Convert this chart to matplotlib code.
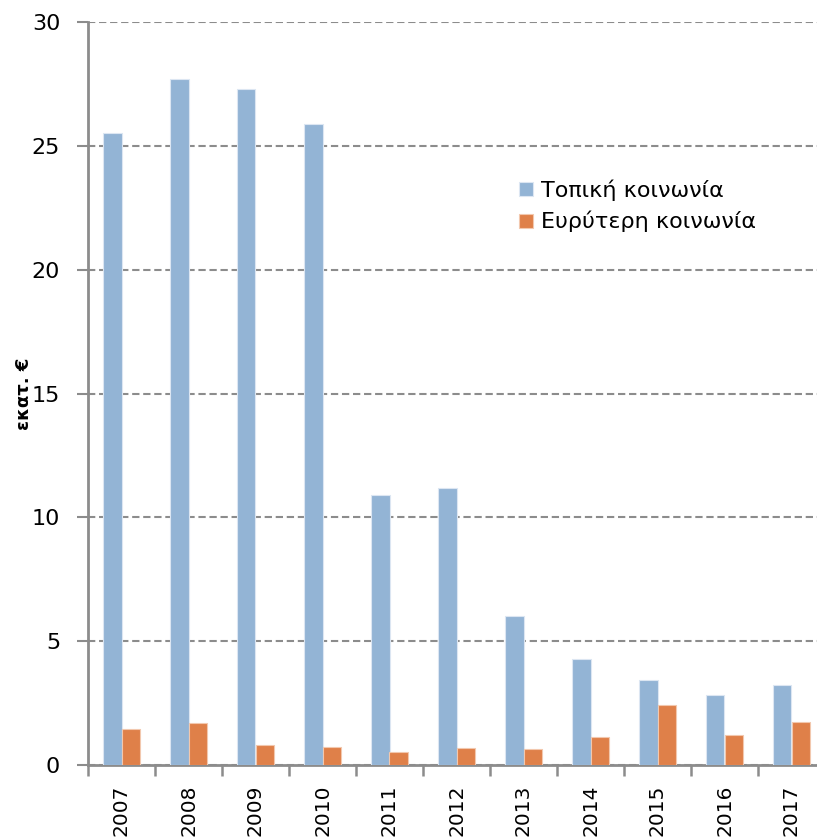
import matplotlib.pyplot as plt
import numpy as np

years = ["2007", "2008", "2009", "2010", "2011", "2012",
         "2013", "2014", "2015", "2016", "2017"]
local_community = [25.5, 27.7, 27.3, 25.9, 10.9, 11.2, 6.0, 4.28, 3.43, 2.83, 3.23]
wider_community = [1.45, 1.70, 0.81, 0.73, 0.52, 0.69, 0.65, 1.13, 2.42, 1.21, 1.74]
series_labels = ["Τοπική κοινωνία", "Ευρύτερη κοινωνία"]
y_ticks = [0, 5, 10, 15, 20, 25, 30]

plt.rcParams['font.family'] = ['DejaVu Sans']

fig = plt.figure(figsize=(8.17, 8.39), dpi=100)
ax = fig.add_axes([88 / 817, 74 / 839, 737 / 817, 743 / 839])

x = np.arange(len(years))
w = 0.28
ax.bar(x - w / 2, local_community, w, color="#93B4D5", edgecolor="#DCE6F2",
       linewidth=0.8, label=series_labels[0], zorder=3)
ax.bar(x + w / 2, wider_community, w, color="#DF8049", edgecolor="#F2C8AE",
       linewidth=0.8, label=series_labels[1], zorder=3)

grey = "#8C8C8C"
ax.set_xlim(-0.5, len(years) - 0.5)
ax.set_ylim(0, 30)
ax.set_yticks(y_ticks)
ax.set_yticklabels([str(v) for v in y_ticks], fontsize=16)
ax.yaxis.grid(True, linestyle=(0, (3.5, 1.8)), color=grey, linewidth=1.5, zorder=0)

ax.set_xticks(x)
ax.set_xticklabels(years, rotation=90, fontsize=14.5)
ax.set_xticks(np.arange(-0.5, len(years)), minor=True)
ax.tick_params(axis="x", which="major", length=0, pad=14)
ax.tick_params(axis="x", which="minor", length=8, width=1.8, color=grey, direction="out")
ax.tick_params(axis="y", length=8, width=1.5, color=grey, pad=12)

for side in ["top", "right"]:
    ax.spines[side].set_visible(False)
for side in ["left", "bottom"]:
    ax.spines[side].set_color(grey)
    ax.spines[side].set_linewidth(2)

ax.set_ylabel("εκατ. €", fontsize=13, fontweight="bold")
ax.yaxis.set_label_coords(-0.074, 0.5)

ax.legend(loc="upper left", bbox_to_anchor=(0.573, 0.8), frameon=False,
          fontsize=16, handlelength=0.6, handleheight=0.6, handletextpad=0.4,
          labelspacing=0.45, borderaxespad=0)

fig.savefig("out.png", dpi=100)
